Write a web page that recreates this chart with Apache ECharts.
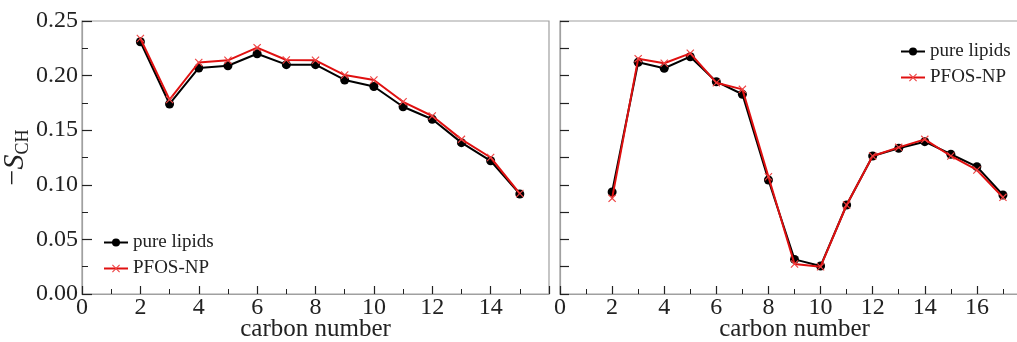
<!DOCTYPE html>
<html>
<head>
<meta charset="utf-8">
<script src="https://cdn.jsdelivr.net/npm/echarts@6/dist/echarts.min.js"></script>
<style>html,body{margin:0;padding:0;background:#fff;}#c{width:1017px;height:342px;}</style>
</head>
<body>
<div id="c"></div>
<script>
// Left panel data
const leftCarbons = [2,3,4,5,6,7,8,9,10,11,12,13,14,15];
const leftPure = [0.231,0.174,0.207,0.209,0.220,0.210,0.210,0.196,0.190,0.1715,0.160,0.1386,0.122,0.0916];
const leftPfos = [0.234,0.178,0.212,0.214,0.2256,0.2143,0.214,0.2005,0.196,0.176,0.163,0.1416,0.125,0.092];
// Right panel data
const rightCarbons = [2,3,4,5,6,7,8,9,10,11,12,13,14,15,16,17];
const rightPure = [0.0934,0.2122,0.2067,0.2173,0.1944,0.1829,0.1044,0.0317,0.0256,0.0815,0.1264,0.1334,0.1395,0.128,0.1166,0.0907];
const rightPfos = [0.0876,0.2155,0.2113,0.2204,0.1935,0.1874,0.1074,0.0275,0.025,0.0815,0.1264,0.1343,0.1416,0.1264,0.1136,0.0885];
const seriesNames = ['pure lipids','PFOS-NP'];
const xLabel = 'carbon number';

const FONT = '"Liberation Serif", "DejaVu Serif", serif';
const AXIS_GRAY = '#a0a0a0';
const TICK = '#222';
const RED = '#e01010';
const CROSS = 'path://M0,1L1,0L5,4L9,0L10,1L6,5L10,9L9,10L5,6L1,10L0,9L4,5Z';

function zip(xs, ys){ return xs.map((x,i)=>[x, ys[i]]); }

function xAxisCfg(idx, max){
  return {
    type:'value', gridIndex: idx, min:0, max:max, interval:2,
    name: xLabel, nameLocation:'middle', nameGap: 23, nameMoveOverlap:false,
    nameTextStyle:{fontFamily:FONT, fontSize:25, color:'#222'},
    axisLine:{show:true, onZero:false, lineStyle:{color:AXIS_GRAY, width:1.2}},
    axisTick:{show:true, inside:true, length:8, lineStyle:{color:TICK, width:1.2}},
    minorTick:{show:true, splitNumber:2, length:5, lineStyle:{color:TICK, width:1}},
    axisLabel:{fontFamily:FONT, fontSize:24, color:'#222', margin:2, showMaxLabel:false},
    splitLine:{show:false}, minorSplitLine:{show:false}
  };
}

const option = {
  animation:false,
  backgroundColor:'#fff',
  grid:[
    {left:82, top:21, width:467, height:273, outerBoundsMode:'none', containLabel:false, show:true, borderColor:AXIS_GRAY, borderWidth:1.2, backgroundColor:'transparent'},
    {left:560, top:21, width:469, height:273, outerBoundsMode:'none', containLabel:false, show:true, borderColor:AXIS_GRAY, borderWidth:1.2, backgroundColor:'transparent'}
  ],
  xAxis:[ xAxisCfg(0,16), xAxisCfg(1,18) ],
  yAxis:[
    {
      type:'value', gridIndex:0, min:0, max:0.25, interval:0.05,
      name:'{a|−}{b|S}{c|CH}', nameLocation:'middle', nameGap:52, nameRotate:90, nameMoveOverlap:false,
      nameTextStyle:{
        rich:{
          a:{fontFamily:FONT, fontSize:28, color:'#222', lineHeight:30, verticalAlign:'top'},
          b:{fontFamily:FONT, fontSize:30, fontStyle:'italic', color:'#222', lineHeight:30, verticalAlign:'top'},
          c:{fontFamily:FONT, fontSize:18, color:'#222', lineHeight:18, padding:[14,0,0,0], verticalAlign:'top'}
        }
      },
      axisLine:{show:true, onZero:false, lineStyle:{color:AXIS_GRAY, width:1.2}},
      axisTick:{show:true, inside:true, length:10, lineStyle:{color:TICK, width:1.2}},
      minorTick:{show:true, splitNumber:2, length:6, lineStyle:{color:TICK, width:1}},
      axisLabel:{fontFamily:FONT, fontSize:24, color:'#222', margin:4, formatter:v=>v.toFixed(2)},
      splitLine:{show:false}, minorSplitLine:{show:false}
    },
    {
      type:'value', gridIndex:1, min:0, max:0.25, interval:0.025,
      axisLine:{show:true, onZero:false, lineStyle:{color:AXIS_GRAY, width:1.2}},
      axisTick:{show:true, inside:true, length:9, lineStyle:{color:TICK, width:1.2}},
      axisLabel:{show:false},
      splitLine:{show:false}
    }
  ],
  legend:[
    {
      left:98, top:228, orient:'vertical', itemWidth:24, itemHeight:10, itemGap:7,
      data:seriesNames,
      textStyle:{fontFamily:FONT, fontSize:19, color:'#222', lineHeight:19}
    },
    {
      left:895, top:37, orient:'vertical', itemWidth:24, itemHeight:10, itemGap:7,
      data:seriesNames,
      textStyle:{fontFamily:FONT, fontSize:19, color:'#222', lineHeight:19}
    }
  ],
  series:[
    {name:seriesNames[0], type:'line', xAxisIndex:0, yAxisIndex:0, data:zip(leftCarbons,leftPure),
     symbol:'circle', symbolSize:9, lineStyle:{color:'#000', width:2}, itemStyle:{color:'#000'}, z:2},
    {name:seriesNames[1], type:'line', xAxisIndex:0, yAxisIndex:0, data:zip(leftCarbons,leftPfos),
     symbol:CROSS, symbolSize:8, lineStyle:{color:RED, width:2}, itemStyle:{color:'#ee4444'}, z:3},
    {name:seriesNames[0], type:'line', xAxisIndex:1, yAxisIndex:1, data:zip(rightCarbons,rightPure),
     symbol:'circle', symbolSize:9, lineStyle:{color:'#000', width:2}, itemStyle:{color:'#000'}, z:2},
    {name:seriesNames[1], type:'line', xAxisIndex:1, yAxisIndex:1, data:zip(rightCarbons,rightPfos),
     symbol:CROSS, symbolSize:8, lineStyle:{color:RED, width:2}, itemStyle:{color:'#ee4444'}, z:3}
  ]
};

const chart = echarts.init(document.getElementById('c'), null, {renderer:'canvas'});
chart.setOption(option);
</script>
</body>
</html>
